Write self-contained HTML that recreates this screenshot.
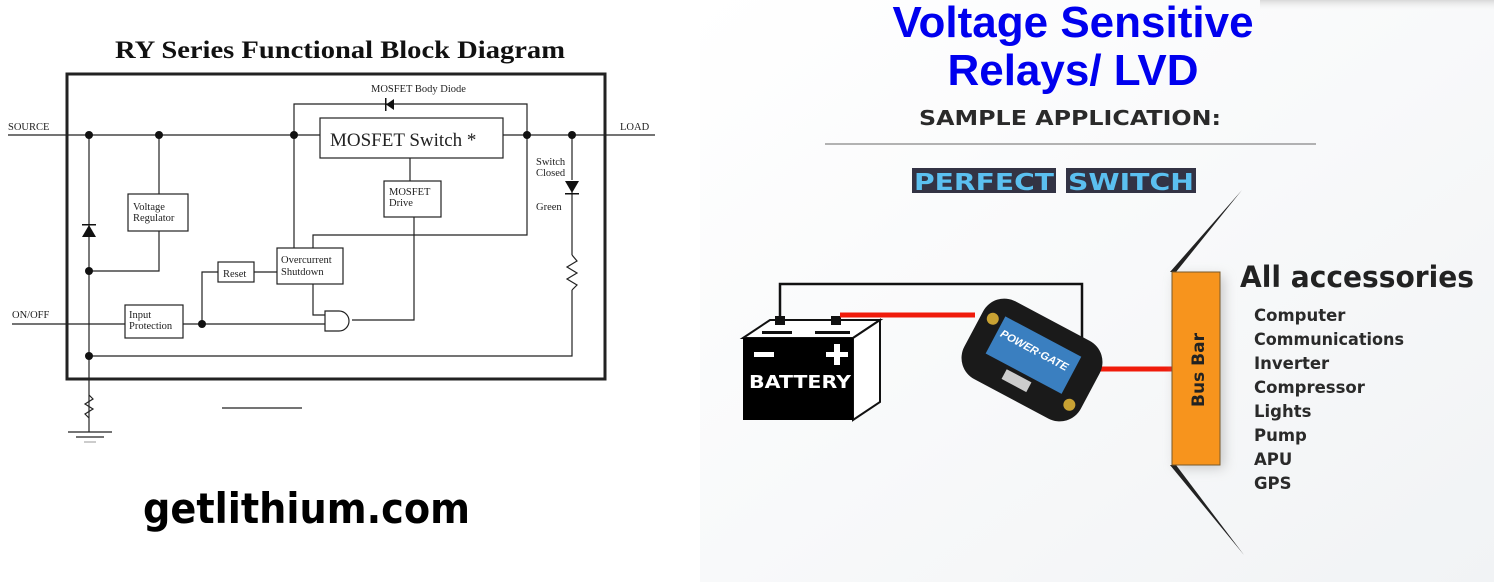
<!DOCTYPE html>
<html><head><meta charset="utf-8"><style>
html,body{margin:0;padding:0;background:#fff;}
svg{display:block;}
</style></head><body>
<svg width="1494" height="582" viewBox="0 0 1494 582" xmlns="http://www.w3.org/2000/svg">
<defs>
<linearGradient id="bg" x1="0" y1="0" x2="1" y2="1"><stop offset="0" stop-color="#ffffff"/><stop offset="1" stop-color="#f1f3f5"/></linearGradient>
<linearGradient id="tb" x1="0" y1="0" x2="0" y2="1"><stop offset="0" stop-color="#d8d8d8"/><stop offset="1" stop-color="#ffffff" stop-opacity="0"/></linearGradient>
<filter id="sh" x="-30%" y="-10%" width="160%" height="120%"><feGaussianBlur stdDeviation="6"/></filter>
</defs>
<rect x="700" y="0" width="794" height="582" fill="url(#bg)"/>
<rect x="1260" y="0" width="234" height="12" fill="url(#tb)"/>

<!-- LEFT DIAGRAM -->
<g font-family="Liberation Serif, serif" fill="#111">
<text x="340" y="58" text-anchor="middle" font-size="25" font-weight="bold" textLength="450" lengthAdjust="spacingAndGlyphs">RY Series Functional Block Diagram</text>
</g>
<g stroke="#222" fill="none">
<rect x="67" y="74" width="538" height="305" stroke-width="3"/>
<g stroke-width="1.2">
<line x1="8" y1="135" x2="320" y2="135"/>
<line x1="503" y1="135" x2="655" y2="135"/>
<rect x="320" y="118" width="183" height="40"/>
<polyline points="294,135 294,104 527,104 527,135"/>
<line x1="89" y1="135" x2="89" y2="432"/>
<polyline points="159,135 159,194"/>
<rect x="128" y="194" width="60" height="37"/>
<polyline points="159,231 159,271 89,271"/>
<line x1="410" y1="158" x2="410" y2="181"/>
<rect x="384" y="181" width="57" height="36"/>
<polyline points="414,217 414,320 352,320"/>
<line x1="294" y1="135" x2="294" y2="248"/>
<rect x="277" y="248" width="66" height="36"/>
<polyline points="313,248 313,235 527,235 527,135"/>
<rect x="218" y="262" width="36" height="20"/>
<line x1="254" y1="272" x2="277" y2="272"/>
<polyline points="218,272 202,272 202,324"/>
<rect x="125" y="305" width="58" height="33"/>
<line x1="12" y1="324" x2="125" y2="324"/>
<line x1="183" y1="324" x2="325" y2="324"/>
<polyline points="313,284 313,315 325,315"/>
<path d="M325,311 h14 a10,10 0 0 1 0,20 h-14 z"/>
<polyline points="89,356 572,356 572,290"/>
<line x1="572" y1="135" x2="572" y2="180"/>
<line x1="572" y1="192" x2="572" y2="255"/>
<polyline points="572,255 577,261 567,267 577,273 567,279 577,285 572,290"/>
<polyline points="89,395 93,399 85,404 93,409 85,414 89,418"/>
<line x1="68" y1="432" x2="112" y2="432"/>
<line x1="76" y1="437" x2="104" y2="437"/>
<line x1="84" y1="442" x2="96" y2="442" stroke="#aaa"/>
<line x1="222" y1="408" x2="302" y2="408"/>
</g>
</g>
<g fill="#111">
<circle cx="89" cy="135" r="4"/><circle cx="159" cy="135" r="4"/><circle cx="294" cy="135" r="4"/>
<circle cx="527" cy="135" r="4"/><circle cx="572" cy="135" r="4"/>
<circle cx="89" cy="271" r="4"/><circle cx="89" cy="356" r="4"/><circle cx="202" cy="324" r="4"/>
<polygon points="82,237 96,237 89,225"/><rect x="82" y="224" width="14" height="1.5"/>
<polygon points="394,99 394,110 386,104.5"/><rect x="385" y="98" width="1.5" height="13"/>
<polygon points="565,181 579,181 572,193"/><rect x="565" y="193" width="14" height="1.5"/>
</g>
<g font-family="Liberation Serif, serif" fill="#222" font-size="10.5">
<text x="8" y="130">SOURCE</text>
<text x="620" y="130">LOAD</text>
<text x="12" y="318">ON/OFF</text>
<text x="371" y="92">MOSFET Body Diode</text>
<text x="330" y="146" font-size="19">MOSFET Switch *</text>
<text x="133" y="210">Voltage</text><text x="133" y="221">Regulator</text>
<text x="389" y="195">MOSFET</text><text x="389" y="206">Drive</text>
<text x="281" y="263">Overcurrent</text><text x="281" y="275">Shutdown</text>
<text x="223" y="277">Reset</text>
<text x="129" y="318">Input</text><text x="129" y="329">Protection</text>
<text x="536" y="165">Switch</text><text x="536" y="176">Closed</text>
<text x="536" y="210">Green</text>
</g>
<text x="143" y="523" font-family="DejaVu Sans, sans-serif" font-weight="bold" font-size="42" fill="#000" textLength="327" lengthAdjust="spacingAndGlyphs">getlithium.com</text>

<!-- RIGHT -->
<g font-family="Liberation Sans, sans-serif" font-weight="bold" fill="#0000ee" text-anchor="middle">
<text x="1073" y="37" font-size="44">Voltage Sensitive</text>
<text x="1073" y="85" font-size="44">Relays/ LVD</text>
</g>
<text x="1070" y="125" text-anchor="middle" font-family="DejaVu Sans, sans-serif" font-weight="bold" font-size="20" fill="#2a2a2a" textLength="302" lengthAdjust="spacingAndGlyphs">SAMPLE APPLICATION:</text>
<line x1="825" y1="144" x2="1316" y2="144" stroke="#999" stroke-width="1.5"/>
<rect x="912" y="168" width="144" height="25" fill="#334"/>
<rect x="1066" y="168" width="130" height="25" fill="#334"/>
<g font-family="DejaVu Sans, sans-serif" font-weight="bold" font-size="23" fill="#5bc0f0">
<text x="914" y="190" textLength="140" lengthAdjust="spacingAndGlyphs">PERFECT</text>
<text x="1068" y="190" textLength="126" lengthAdjust="spacingAndGlyphs">SWITCH</text>
</g>

<!-- wires -->
<polyline points="780,318 780,284 1082,284 1082,340" fill="none" stroke="#111" stroke-width="2.5"/>
<!-- battery -->
<polygon points="743,338 770,320 880,320 853,338" fill="#fff" stroke="#111" stroke-width="2"/>
<polygon points="853,338 880,320 880,402 853,420" fill="#fff" stroke="#111" stroke-width="2"/>
<rect x="743" y="338" width="110" height="82" fill="#000"/>
<rect x="775" y="316" width="10" height="9" fill="#111"/><rect x="831" y="316" width="10" height="9" fill="#111"/>
<rect x="762" y="331" width="30" height="3" fill="#111"/><rect x="815" y="331" width="35" height="3" fill="#111"/>
<rect x="754" y="352" width="20" height="5" fill="#fff"/>
<rect x="826" y="352" width="22" height="5" fill="#fff"/><rect x="834" y="344" width="6" height="21" fill="#fff"/>
<text x="749" y="388" font-family="DejaVu Sans, sans-serif" font-weight="bold" font-size="18" fill="#fff" textLength="102" lengthAdjust="spacingAndGlyphs">BATTERY</text>
<line x1="840" y1="315" x2="975" y2="315" stroke="#f01b0b" stroke-width="5"/>
<line x1="1088" y1="369" x2="1172" y2="369" stroke="#f01b0b" stroke-width="5"/>
<!-- device -->
<g transform="translate(1032,360) rotate(28)">
<rect x="-66" y="-44" width="132" height="88" rx="24" fill="#1a1a1a"/>
<rect x="-44" y="-26" width="86" height="42" fill="#3a7fc0"/>
<text x="-40" y="-6" font-family="Liberation Sans, sans-serif" font-weight="bold" font-style="italic" font-size="11" fill="#fff">POWER·GATE</text>
<rect x="-18" y="20" width="28" height="11" fill="#ccc"/>
<circle cx="-54" cy="-18" r="6" fill="#c9a233"/><circle cx="54" cy="22" r="6" fill="#c9a233"/>
</g>
<!-- bus bar -->
<rect x="1176" y="276" width="48" height="192" fill="#999" opacity="0.5" filter="url(#sh)"/>
<polygon points="1170,272 1242,190 1176,272" fill="#222"/>
<polygon points="1170,465 1244,555 1176,465" fill="#222"/>
<rect x="1172" y="272" width="48" height="193" fill="#f7941d" stroke="#7a5a2a" stroke-width="1"/>
<text transform="translate(1204,370) rotate(-90)" text-anchor="middle" font-family="DejaVu Sans, sans-serif" font-weight="bold" font-size="17" fill="#222">Bus  Bar</text>
<text x="1240" y="287" font-family="DejaVu Sans, sans-serif" font-weight="bold" font-size="29" fill="#222" textLength="234" lengthAdjust="spacingAndGlyphs">All accessories</text>
<g font-family="DejaVu Sans, sans-serif" font-weight="bold" font-size="16.5" fill="#2a2a2a">
<text x="1254" y="321">Computer</text>
<text x="1254" y="345" textLength="150" lengthAdjust="spacingAndGlyphs">Communications</text>
<text x="1254" y="369">Inverter</text>
<text x="1254" y="393">Compressor</text>
<text x="1254" y="417">Lights</text>
<text x="1254" y="441">Pump</text>
<text x="1254" y="465">APU</text>
<text x="1254" y="489">GPS</text>
</g>
</svg>
</body></html>
